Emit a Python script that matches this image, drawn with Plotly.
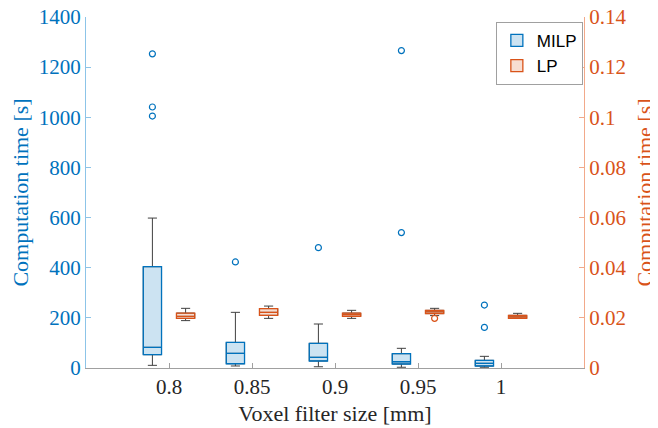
import plotly.graph_objects as go

# ---- data ----
voxel_sizes = [0.8, 0.85, 0.9, 0.95, 1.0]

milp_lower = [10.6, 8.0, 5.0, 3.0, 3.0]
milp_q1 = [53.0, 17.0, 28.0, 16.0, 8.0]
milp_median = [82.5, 58.5, 42.7, 25.0, 18.6]
milp_q3 = [404.0, 102.0, 98.5, 57.0, 30.6]
milp_upper = [598.0, 222.0, 175.5, 78.5, 46.5]
milp_outlier_x = [0.8, 0.8, 0.8, 0.85, 0.9, 0.95, 0.95, 1.0, 1.0]
milp_outlier_y = [1253, 1041, 1005, 423, 480, 1266, 540, 251, 162]

lp_lower = [0.0189, 0.0198, 0.0198, 0.0209, 0.0198]
lp_q1 = [0.0198, 0.0210, 0.0206, 0.0217, 0.0198]
lp_median = [0.0206, 0.0222, 0.0213, 0.0224, 0.0204]
lp_q3 = [0.0219, 0.0237, 0.0219, 0.0230, 0.0210]
lp_upper = [0.0238, 0.0247, 0.0230, 0.0238, 0.0218]
lp_outlier_x = [0.95]
lp_outlier_y = [0.0198]

# ---- style ----
BLUE = "#0072BD"
ORANGE = "#D95319"
WHISK = "#404040"
offset = 0.01
bw = 0.011
serif = "Liberation Serif"

xm = [v - offset for v in voxel_sizes]
xl = [v + offset for v in voxel_sizes]

fig = go.Figure()

def add_boxes(x, lo, q1, med, q3, hi, color, fill, name, yaxis):
    # whiskers (dark)
    fig.add_trace(go.Box(x=x, q1=q1, median=med, q3=q3, lowerfence=lo, upperfence=hi,
                         width=bw, whiskerwidth=0.5, line=dict(color=WHISK, width=1),
                         fillcolor="rgba(0,0,0,0)", showlegend=False, hoverinfo="skip",
                         yaxis=yaxis))
    # box (colored)
    fig.add_trace(go.Box(x=x, q1=q1, median=med, q3=q3, lowerfence=q1, upperfence=q3,
                         width=bw, whiskerwidth=0, line=dict(color=color, width=1.3),
                         fillcolor=fill, name=name, showlegend=True, yaxis=yaxis))

add_boxes(xm, milp_lower, milp_q1, milp_median, milp_q3, milp_upper,
          BLUE, "rgba(0,114,189,0.2)", "MILP", "y")
add_boxes(xl, lp_lower, lp_q1, lp_median, lp_q3, lp_upper,
          ORANGE, "rgba(217,83,25,0.2)", "LP", "y2")

fig.add_trace(go.Scatter(x=[v - offset for v in milp_outlier_x], y=milp_outlier_y,
                         mode="markers", marker=dict(symbol="circle-open", size=6,
                         color=BLUE, line=dict(width=1.2)), showlegend=False))
fig.add_trace(go.Scatter(x=[v + offset for v in lp_outlier_x], y=lp_outlier_y, yaxis="y2",
                         mode="markers", marker=dict(symbol="circle-open", size=6,
                         color=ORANGE, line=dict(width=1.2)), showlegend=False))

# page body has an 8px default margin, so the figure is 650x420 placed at (8, 8)
fig.update_layout(
    width=650, height=420,
    margin=dict(l=78, r=74, t=9, b=60),
    paper_bgcolor="white", plot_bgcolor="white",
    boxmode="overlay",
    showlegend=True,
    legend=dict(x=0.823, y=0.986, xanchor="left", yanchor="top",
                bordercolor="#a0a0a0", borderwidth=1, bgcolor="white",
                font=dict(family="Liberation Sans", size=17, color="black"),
                tracegroupgap=0, itemwidth=30),
    xaxis=dict(range=[0.75, 1.05], tickvals=voxel_sizes,
               ticktext=["0.8", "0.85", "0.9", "0.95", "1"],
               showline=True, linecolor="#a0a0a0", linewidth=1,
               ticks="inside", ticklen=5, tickcolor="#a0a0a0",
               showgrid=False, zeroline=False, automargin=False,
               ticklabeloverflow="allow",
               tickfont=dict(family=serif, size=21, color="#262626"),
               title=dict(text="Voxel filter size [mm]", standoff=7,
                          font=dict(family=serif, size=22, color="#262626"))),
    yaxis=dict(range=[0, 1400], dtick=200,
               showline=True, linecolor="#8cc4e8", linewidth=1,
               ticks="inside", ticklen=5, tickcolor="#8cc4e8",
               showgrid=False, zeroline=False, automargin=False,
               ticklabeloverflow="allow",
               tickfont=dict(family=serif, size=21, color=BLUE),
               title=dict(text="Computation time [s]", standoff=6,
                          font=dict(family=serif, size=22, color=BLUE))),
    yaxis2=dict(range=[0, 0.14], dtick=0.02, overlaying="y", side="right",
                showline=True, linecolor="#f2a98a", linewidth=1,
                ticks="inside", ticklen=5, tickcolor="#f2a98a",
                showgrid=False, zeroline=False, tickformat="~g", automargin=False,
                ticklabeloverflow="allow",
                tickfont=dict(family=serif, size=21, color=ORANGE),
                title=dict(text="Computation time [s]", standoff=11,
                           font=dict(family=serif, size=22, color=ORANGE))),
)

fig.write_html("out.html")
